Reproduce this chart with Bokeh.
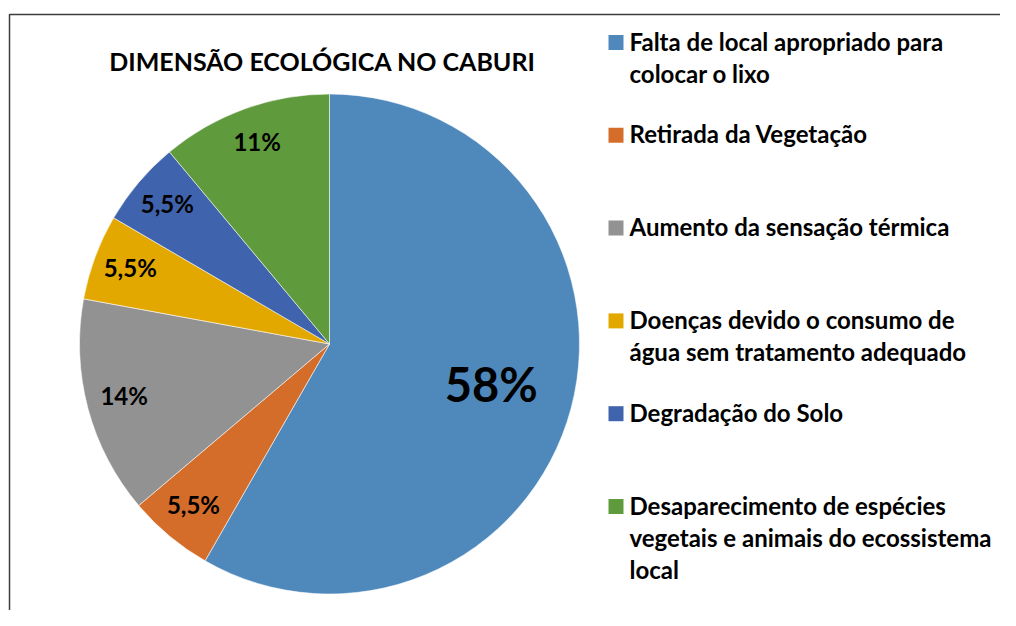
import numpy as np
from bokeh.plotting import figure
from bokeh.models import ColumnDataSource
from bokeh.core.properties import value
from bokeh.embed import file_html
from bokeh.resources import INLINE

# ---- data ----
title = "DIMENSÃO ECOLÓGICA NO CABURI"
categories = [
    "Falta de local apropriado para\ncolocar o lixo",
    "Retirada da Vegetação",
    "Aumento da sensação térmica",
    "Doenças devido o consumo de\nágua sem tratamento adequado",
    "Degradação do Solo",
    "Desaparecimento de espécies\nvegetais e animais do ecossistema\nlocal",
]
values = [58, 5.5, 14, 5.5, 5.5, 11]
value_labels = ["58%", "5,5%", "14%", "5,5%", "5,5%", "11%"]
colors = ["#4F89BC", "#D46D2A", "#929292", "#E3A800", "#3F64AD", "#5F9A3C"]

FONT = "Lato"
W, H = 1000, 610

p = figure(width=W, height=H, x_range=(0, W), y_range=(0, H),
           output_backend="svg", toolbar_location=None, min_border=0)
p.axis.visible = False
p.grid.visible = False
p.outline_line_color = None

# frame (left and top edges visible in the window)
p.line([9, 9, W + 10], [-20, 596, 596], line_color="#3c3c3c", line_width=1.5)

# ---- pie ----
cx, cy, R = 329, 266.5, 250
vals = np.array(values, dtype=float)
frac = vals / vals.sum()
cum = np.concatenate([[0], np.cumsum(frac)])
start = np.pi / 2 - cum[:-1] * 2 * np.pi
end = np.pi / 2 - cum[1:] * 2 * np.pi
mid = (start + end) / 2
rf = np.where(frac > 0.5, 0.67, 0.85)
lx = cx + rf * R * np.cos(mid)
ly = cy + rf * R * np.sin(mid) + 3
fs = ["47px" if f > 0.5 else "24px" for f in frac]

src = ColumnDataSource(dict(start=start, end=end, color=colors,
                            lx=lx, ly=ly, lab=value_labels, fs=fs))
p.wedge(x=cx, y=cy, radius=R, radius_units="screen",
        start_angle="start", end_angle="end", direction="clock",
        fill_color="color", line_color="white", line_width=0.8,
        line_alpha=0.7, source=src)
p.text(x="lx", y="ly", text="lab", source=src, text_font=value(FONT),
       text_font_style="bold", text_font_size="fs", text_color="black",
       text_align="center", text_baseline="middle")

# ---- title ----
p.text(x=[322], y=[550], text=[title], text_font=value(FONT),
       text_font_style="bold", text_font_size="25px", text_color="black",
       text_align="center", text_baseline="middle")

# ---- legend ----
n = len(categories)
ly0 = 568
step = 92.8
leg_y = ly0 - np.arange(n) * step
p.rect(x=[615.5] * n, y=leg_y, width=15, height=15,
       width_units="screen", height_units="screen",
       fill_color=colors, line_color=None)
p.text(x=[629] * n, y=leg_y + 16, text=categories, text_font=value(FONT),
       text_font_style="bold", text_font_size="24px", text_color="black",
       text_align="left", text_baseline="top", text_line_height=1.12)

open("out.html", "w").write(file_html(p, INLINE))
